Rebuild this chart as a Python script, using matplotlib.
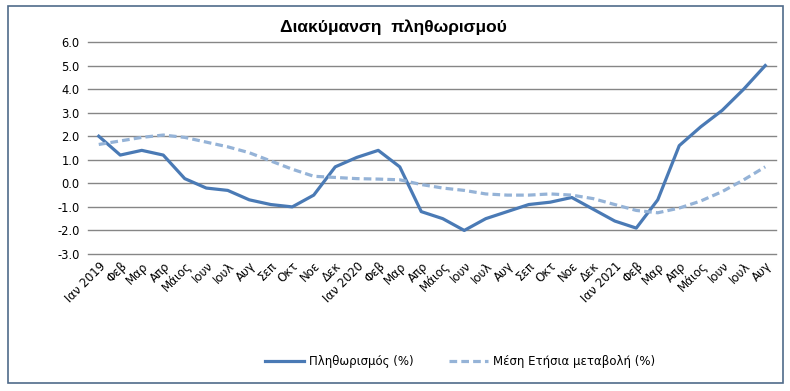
import matplotlib
matplotlib.use("Agg")
import matplotlib.pyplot as plt
from matplotlib.patches import Rectangle

months = ["Ιαν 2019", "Φεβ", "Μαρ", "Απρ", "Μάιος", "Ιουν", "Ιουλ", "Αυγ", "Σεπ", "Οκτ", "Νοε", "Δεκ",
          "Ιαν 2020", "Φεβ", "Μαρ", "Απρ", "Μάιος", "Ιουν", "Ιουλ", "Αυγ", "Σεπ", "Οκτ", "Νοε", "Δεκ",
          "Ιαν 2021", "Φεβ", "Μαρ", "Απρ", "Μάιος", "Ιουν", "Ιουλ", "Αυγ"]
inflation = [2.0, 1.2, 1.4, 1.2, 0.2, -0.2, -0.3, -0.7, -0.9, -1.0, -0.5, 0.7,
             1.1, 1.4, 0.7, -1.2, -1.5, -2.0, -1.5, -1.2, -0.9, -0.8, -0.6, -1.1,
             -1.6, -1.9, -0.7, 1.6, 2.4, 3.1, 4.0, 5.0]
avg_annual = [1.65, 1.8, 1.95, 2.05, 1.95, 1.75, 1.55, 1.3, 0.95, 0.6, 0.3, 0.25,
              0.2, 0.18, 0.15, -0.05, -0.2, -0.3, -0.45, -0.5, -0.5, -0.45, -0.5, -0.65,
              -0.9, -1.15, -1.25, -1.05, -0.75, -0.35, 0.15, 0.7]
yticks = [-3.0, -2.0, -1.0, 0.0, 1.0, 2.0, 3.0, 4.0, 5.0, 6.0]

plt.rcParams['font.family'] = ['DejaVu Sans']
fig = plt.figure(figsize=(7.9, 3.91), dpi=100)
fig.patch.set_facecolor('white')
fig.patches.append(Rectangle((8/790, 8/391), 775/790, 377/391, transform=fig.transFigure,
                             fill=False, edgecolor='#4f6b8a', linewidth=1.2))

ax = fig.add_axes([88/790, 1-254/391, 688/790, 212/391])
x = list(range(len(months)))
ax.plot(x, inflation, color='#4a7ab5', linewidth=2.3, label='Πληθωρισμός (%)')
ax.plot(x, avg_annual, color='#95b3d7', linewidth=2.3, linestyle=(0, (2.4, 1.3)), label='Μέση Ετήσια μεταβολή (%)')
ax.set_xlim(-0.5, len(months)-0.5)
ax.set_ylim(-3, 6)
ax.set_yticks(yticks)
ax.set_yticklabels([f"{v:.1f}" for v in yticks], fontsize=8.3)
ax.set_xticks(x)
ax.set_xticklabels(months, rotation=45, ha='right', rotation_mode='anchor', fontsize=8.5)
ax.tick_params(axis='both', length=0, pad=6)
ax.tick_params(axis='x', pad=4)
for s in ax.spines.values():
    s.set_visible(False)
ax.grid(axis='y', color='#868686', linewidth=1)
for gl in ax.get_ygridlines():
    gl.set_clip_on(False)
ax.set_axisbelow(True)

fig.text(393/790, 1-27/391, "Διακύμανση  πληθωρισμού", ha='center', va='center',
         fontsize=12.5, fontweight='bold', family=['Liberation Sans', 'DejaVu Sans'])

fig.legend(loc='center', bbox_to_anchor=(460/790, 1-362/391), ncol=2, frameon=False,
           fontsize=8.5, handlelength=3.3, columnspacing=3, handletextpad=0.4)

fig.savefig('out.png', dpi=100)
